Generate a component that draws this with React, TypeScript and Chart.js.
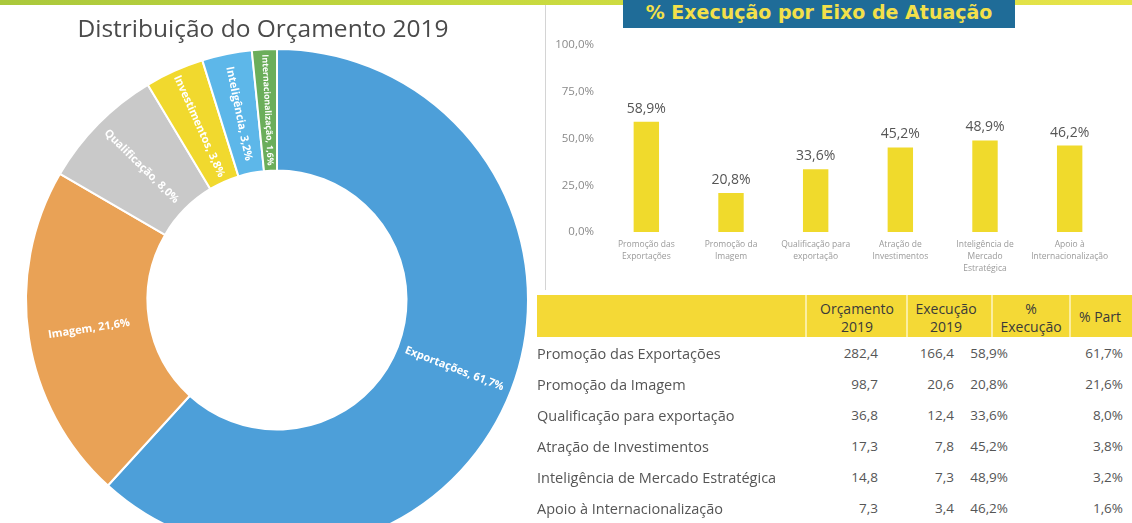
import React, { useEffect, useRef } from 'react';
import { Chart, registerables } from 'chart.js';

Chart.register(...registerables);

// ---- data ----
const categories = [
  'Promoção das Exportações',
  'Promoção da Imagem',
  'Qualificação para exportação',
  'Atração de Investimentos',
  'Inteligência de Mercado Estratégica',
  'Apoio à Internacionalização',
];
const barTickLabels = [
  ['Promoção das', 'Exportações'],
  ['Promoção da', 'Imagem'],
  ['Qualificação para', 'exportação'],
  ['Atração de', 'Investimentos'],
  ['Inteligência de', 'Mercado', 'Estratégica'],
  ['Apoio à', 'Internacionalização'],
];
const sliceLabels = ['Exportações', 'Imagem', 'Qualificação', 'Investimentos', 'Inteligência', 'Internacionalização'];
const orcamento2019 = [282.4, 98.7, 36.8, 17.3, 14.8, 7.3];
const execucao2019 = [166.4, 20.6, 12.4, 7.8, 7.3, 3.4];
const pctExecucao = [58.9, 20.8, 33.6, 45.2, 48.9, 46.2];
const pctPart = [61.7, 21.6, 8.0, 3.8, 3.2, 1.6];
const yTickValues = [0, 25, 50, 75, 100];

const sliceColors = ['#4d9fd9', '#e9a256', '#c9c9c9', '#f1d92e', '#5db7e9', '#6bae5b'];
const barColor = '#f0da2c';

const fmt = (v: number) => v.toFixed(1).replace('.', ',');

const sliceLabelPlugin = {
  id: 'sliceLabels',
  afterDatasetsDraw(chart: any) {
    const ctx = chart.ctx;
    const meta = chart.getDatasetMeta(0);
    meta.data.forEach((arc: any, i: number) => {
      const p = arc.getProps(['x', 'y', 'startAngle', 'endAngle', 'innerRadius', 'outerRadius'], true);
      const mid = (p.startAngle + p.endAngle) / 2;
      const r = (p.innerRadius + p.outerRadius) / 2;
      const x = p.x + Math.cos(mid) * r;
      const y = p.y + Math.sin(mid) * r;
      let ang = mid;
      if (Math.cos(mid) < 0) ang += Math.PI;
      const text = `${sliceLabels[i]}, ${fmt(pctPart[i])}%`;
      let size = 11;
      ctx.save();
      ctx.font = `bold ${size}px "Open Sans"`;
      const maxW = p.outerRadius - p.innerRadius - 10;
      const w = ctx.measureText(text).width;
      if (w > maxW) {
        size = (size * maxW) / w;
        ctx.font = `bold ${size}px "Open Sans"`;
      }
      ctx.translate(x, y);
      ctx.rotate(ang);
      ctx.fillStyle = '#ffffff';
      ctx.textAlign = 'center';
      ctx.textBaseline = 'middle';
      ctx.fillText(text, 0, 0);
      ctx.restore();
    });
  },
};

const barValuePlugin = {
  id: 'barValues',
  afterDatasetsDraw(chart: any) {
    const ctx = chart.ctx;
    const meta = chart.getDatasetMeta(0);
    ctx.save();
    ctx.font = '14px "Open Sans"';
    ctx.fillStyle = '#555555';
    ctx.textAlign = 'center';
    ctx.textBaseline = 'middle';
    meta.data.forEach((bar: any, i: number) => {
      ctx.fillText(`${fmt(pctExecucao[i])}%`, bar.x, bar.y - 13);
    });
    ctx.restore();
  },
};

const abs = (s: React.CSSProperties): React.CSSProperties => ({ position: 'absolute', ...s });

export default function App() {
  const donutRef = useRef<HTMLCanvasElement>(null);
  const barRef = useRef<HTMLCanvasElement>(null);

  useEffect(() => {
    const donut = new Chart(donutRef.current!, {
      type: 'doughnut',
      data: {
        labels: sliceLabels,
        datasets: [{ data: pctPart, backgroundColor: sliceColors, borderColor: '#ffffff', borderWidth: 2 }],
      },
      options: {
        responsive: false,
        animation: false,
        cutout: '51.6%',
        layout: { padding: 28 },
        plugins: { legend: { display: false }, tooltip: { enabled: false } },
      },
      plugins: [sliceLabelPlugin],
    } as any);

    const bar = new Chart(barRef.current!, {
      type: 'bar',
      data: {
        labels: barTickLabels,
        datasets: [{ data: pctExecucao, backgroundColor: barColor, barPercentage: 0.3, categoryPercentage: 1 }],
      },
      options: {
        responsive: false,
        animation: false,
        layout: { padding: { top: 4, right: 20, bottom: 0, left: 0 } },
        plugins: { legend: { display: false }, tooltip: { enabled: false } },
        scales: {
          x: {
            grid: { display: false, drawTicks: false },
            border: { display: false },
            ticks: { color: '#9a9a9a', font: { size: 8.5, family: '"Open Sans"', lineHeight: 1.45 }, padding: 6, maxRotation: 0, autoSkip: false },
            afterFit: (s: any) => { s.height = 58; },
          },
          y: {
            min: 0,
            max: 100,
            afterBuildTicks: (s: any) => { s.ticks = yTickValues.map((v) => ({ value: v })); },
            grid: { display: false, drawTicks: false },
            border: { display: false },
            ticks: {
              color: '#8a8a8a',
              font: { size: 11.5, family: '"Open Sans"' },
              padding: 10,
              callback: (v: any) => `${fmt(Number(v))}%`,
            },
            afterFit: (s: any) => { s.width = 64; },
          },
        },
      },
      plugins: [barValuePlugin],
    } as any);

    return () => {
      donut.destroy();
      bar.destroy();
    };
  }, []);

  const headerCells = [
    { lines: ['Orçamento', '2019'], cx: 857 },
    { lines: ['Execução', '2019'], cx: 946 },
    { lines: ['%', 'Execução'], cx: 1031 },
    { lines: ['% Part'], cx: 1100 },
  ];
  const valueCols = [
    { vals: orcamento2019.map(fmt), right: 878 },
    { vals: execucao2019.map(fmt), right: 954 },
    { vals: pctExecucao.map((v) => fmt(v) + '%'), right: 1008 },
    { vals: pctPart.map((v) => fmt(v) + '%'), right: 1123 },
  ];
  const rowY = (i: number) => 353 + i * 31;
  const txt: React.CSSProperties = { fontFamily: '"Open Sans", sans-serif', whiteSpace: 'nowrap' };

  return (
    <div style={{ position: 'fixed', left: 0, top: 0, width: 1132, height: 523, overflow: 'hidden', background: '#ffffff' }}>
      {/* top stripe */}
      <div style={abs({ left: 0, top: 0, width: 1132, height: 5, background: 'linear-gradient(90deg, #aac83c 0%, #c4d83e 40%, #e8e44a 100%)' })} />

      {/* doughnut */}
      <canvas ref={donutRef} width={560} height={560} style={abs({ left: -3, top: 20 })} />
      <div style={abs({ left: 263, top: 27, transform: 'translate(-50%, -50%)', ...txt, fontSize: 24.5, color: '#4a4a4a' })}>
        Distribuição do Orçamento 2019
      </div>

      {/* bar panel */}
      <div style={abs({ left: 545, top: 5, width: 1, height: 285, background: '#d4d4d4' })} />
      <canvas ref={barRef} width={592} height={262} style={abs({ left: 540, top: 28 })} />
      <div
        style={abs({
          left: 623,
          top: 0,
          width: 392,
          height: 28,
          background: '#1f6c98',
          color: '#f3e04a',
          fontFamily: '"DejaVu Sans", sans-serif',
          fontWeight: 'bold',
          fontSize: 19,
          lineHeight: '24px',
          textAlign: 'center',
          whiteSpace: 'nowrap',
          overflow: 'hidden',
        })}
      >
        % Execução por Eixo de Atuação
      </div>

      {/* table */}
      <div style={abs({ left: 537, top: 295, width: 595, height: 42, background: '#f4d936' })} />
      {[805, 906, 991, 1069].map((x) => (
        <div key={x} style={abs({ left: x, top: 295, width: 2, height: 42, background: '#fbeea0' })} />
      ))}
      {headerCells.map((c, j) =>
        c.lines.map((ln, k) => (
          <div
            key={`h${j}-${k}`}
            style={abs({
              left: c.cx,
              top: c.lines.length === 1 ? 316 : k === 0 ? 308 : 326,
              transform: 'translate(-50%, -50%)',
              ...txt,
              fontSize: 14,
              fontWeight: 500,
              color: '#3a3a3a',
            })}
          >
            {ln}
          </div>
        ))
      )}
      {categories.map((c, i) => (
        <div key={`r${i}`} style={abs({ left: 537, top: rowY(i), transform: 'translateY(-50%)', ...txt, fontSize: 14.5, color: '#555555' })}>
          {c}
        </div>
      ))}
      {valueCols.map((col, j) =>
        col.vals.map((v, i) => (
          <div
            key={`v${j}-${i}`}
            style={abs({ right: 1132 - col.right, top: rowY(i), transform: 'translateY(-50%)', ...txt, fontSize: 13.5, color: '#555555', textAlign: 'right' })}
          >
            {v}
          </div>
        ))
      )}
    </div>
  );
}
